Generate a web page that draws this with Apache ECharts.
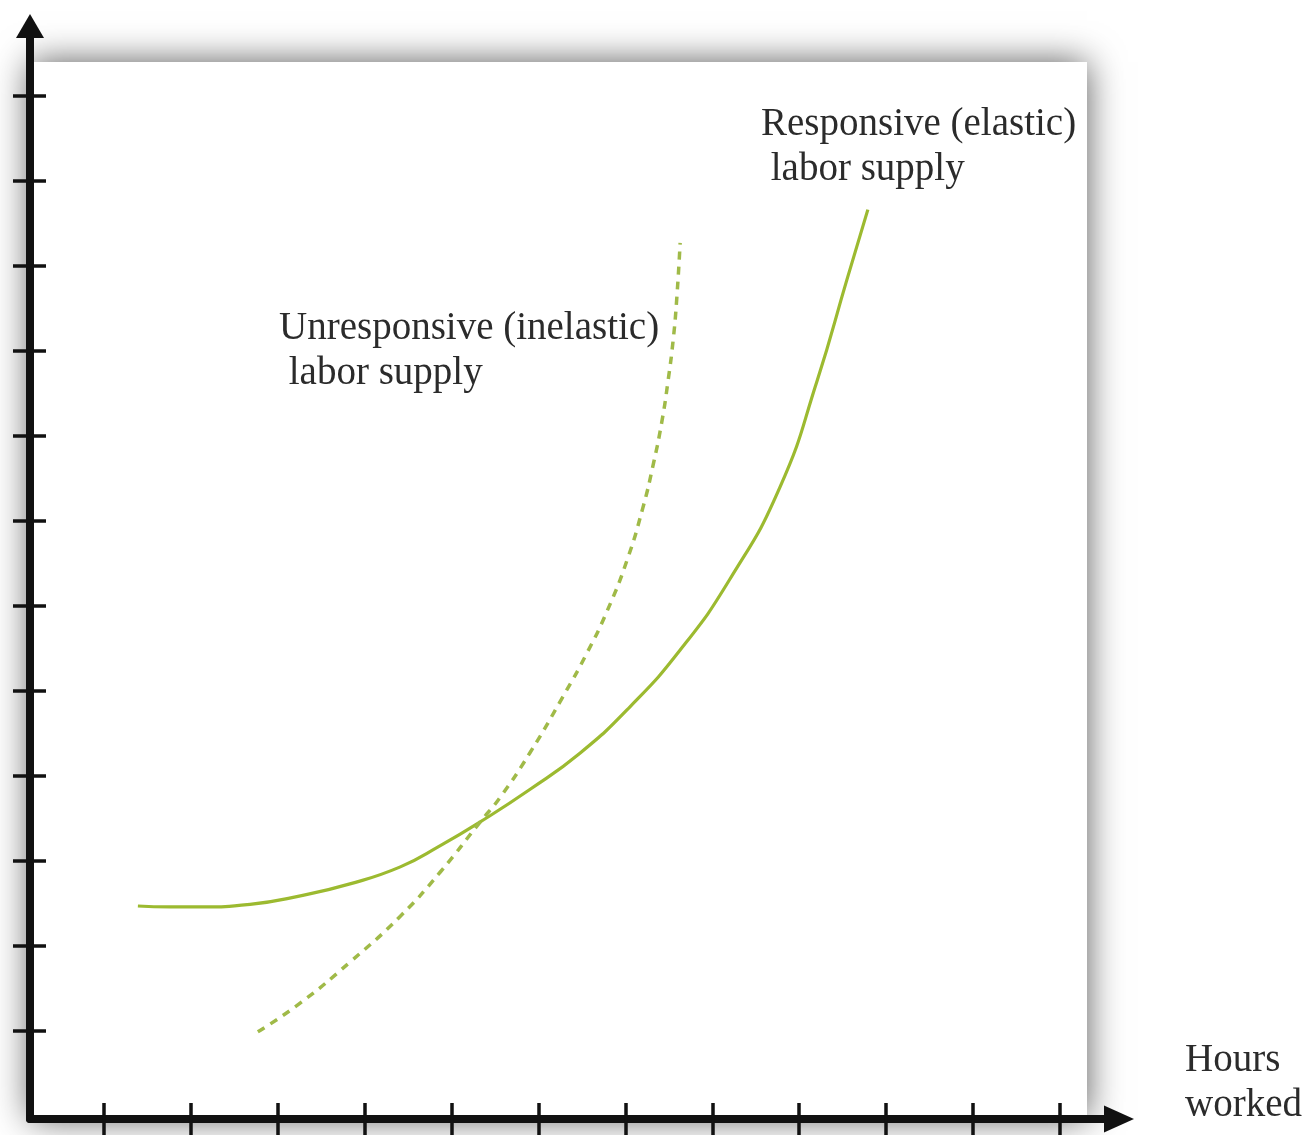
<!DOCTYPE html>
<html>
<head>
<meta charset="utf-8">
<script src="https://cdn.jsdelivr.net/npm/echarts@6/dist/echarts.min.js"></script>
<style>
  html, body { margin: 0; padding: 0; background: #fff; }
  #main { width: 1304px; height: 1135px; }
</style>
</head>
<body>
<div id="main"></div>
<script>
// tick positions (arbitrary units, no labels in the original)
var tickValues = [1, 2, 3, 4, 5, 6, 7, 8, 9, 10, 11, 12];

// responsive (elastic) labor supply - solid
var elasticX = [1.39, 1.76, 2.11, 2.68, 3.26, 3.83, 4.41, 4.87, 5.33, 5.90, 6.48, 7.05, 7.63, 8.20, 8.78, 9.21, 9.55, 9.79];
var elasticY = [2.47, 2.46, 2.46, 2.49, 2.59, 2.73, 2.93, 3.18, 3.46, 3.84, 4.27, 4.81, 5.48, 6.31, 7.40, 8.66, 9.84, 10.66];

// unresponsive (inelastic) labor supply - dashed
var inelasticX = [2.77, 3.26, 3.83, 4.41, 4.87, 5.33, 5.56, 5.90, 6.28, 6.56, 6.79, 7.02, 7.20, 7.32, 7.42, 7.49, 7.55, 7.59, 7.63];
var inelasticY = [0.99, 1.33, 1.81, 2.35, 2.87, 3.46, 3.75, 4.27, 4.93, 5.45, 5.94, 6.54, 7.15, 7.66, 8.17, 8.64, 9.13, 9.60, 10.27];

function pairs(xs, ys) {
    return xs.map(function (x, i) { return [x, ys[i]]; });
}

var myChart = echarts.init(document.getElementById('main'));

var serif = '"Liberation Serif", "DejaVu Serif", serif';
var xMin = 0.1485, xMax = 12.68;
var yMin = -0.035, yMax = 12.82;

var option = {
    animation: false,
    backgroundColor: '#fff',
    grid: { left: 30, top: 26, right: 185, bottom: 16 },
    graphic: [
        {
            type: 'rect',
            z: -10,
            shape: { x: 30, y: 62, width: 1057, height: 1057 },
            style: { fill: '#fff', shadowBlur: 34, shadowColor: 'rgba(0,0,0,0.65)' },
            silent: true
        },
        {
            type: 'text', x: 761, y: 102,
            style: { text: 'Responsive (elastic)\n labor supply', font: '39px ' + serif, fill: '#2b2b2b', lineHeight: 45 }
        },
        {
            type: 'text', x: 279, y: 306,
            style: { text: 'Unresponsive (inelastic)\n labor supply', font: '39px ' + serif, fill: '#2b2b2b', lineHeight: 45 }
        },
        {
            type: 'text', x: 1185, y: 1038,
            style: { text: 'Hours\nworked', font: '39px ' + serif, fill: '#2b2b2b', lineHeight: 45 }
        }
    ],
    xAxis: [
        {
            type: 'value', min: xMin, max: xMax,
            axisLine: { onZero: false, lineStyle: { color: '#111', width: 8 }, symbol: ['none', 'triangle'], symbolSize: [27, 30] },
            axisTick: { show: true, inside: true, length: 16, customValues: tickValues, lineStyle: { color: '#111', width: 3.5 } },
            axisLabel: { show: false },
            splitLine: { show: false }
        },
        {
            type: 'value', min: xMin, max: xMax, position: 'bottom',
            axisLine: { show: false, onZero: false },
            axisTick: { show: true, inside: false, length: 20, customValues: tickValues, lineStyle: { color: '#111', width: 3.5 } },
            axisLabel: { show: false },
            splitLine: { show: false }
        }
    ],
    yAxis: [
        {
            type: 'value', min: yMin, max: yMax,
            axisLine: { show: true, onZero: false, lineStyle: { color: '#111', width: 8 }, symbol: ['none', 'triangle'], symbolSize: [28, 24] },
            axisTick: { show: true, inside: true, length: 16, customValues: tickValues, lineStyle: { color: '#111', width: 3.5 } },
            axisLabel: { show: false },
            splitLine: { show: false }
        },
        {
            type: 'value', min: yMin, max: yMax, position: 'left',
            axisLine: { show: false, onZero: false },
            axisTick: { show: true, inside: false, length: 17, customValues: tickValues, lineStyle: { color: '#111', width: 3.5 } },
            axisLabel: { show: false },
            splitLine: { show: false }
        }
    ],
    series: [
        {
            name: 'Responsive (elastic) labor supply',
            type: 'line',
            smooth: 0.5,
            showSymbol: false,
            data: pairs(elasticX, elasticY),
            lineStyle: { color: '#9cba30', width: 3.2 }
        },
        {
            name: 'Unresponsive (inelastic) labor supply',
            type: 'line',
            smooth: 0.5,
            showSymbol: false,
            data: pairs(inelasticX, inelasticY),
            lineStyle: { color: '#a0ba48', width: 3.5, type: [8, 7] }
        }
    ]
};

myChart.setOption(option);
</script>
</body>
</html>
